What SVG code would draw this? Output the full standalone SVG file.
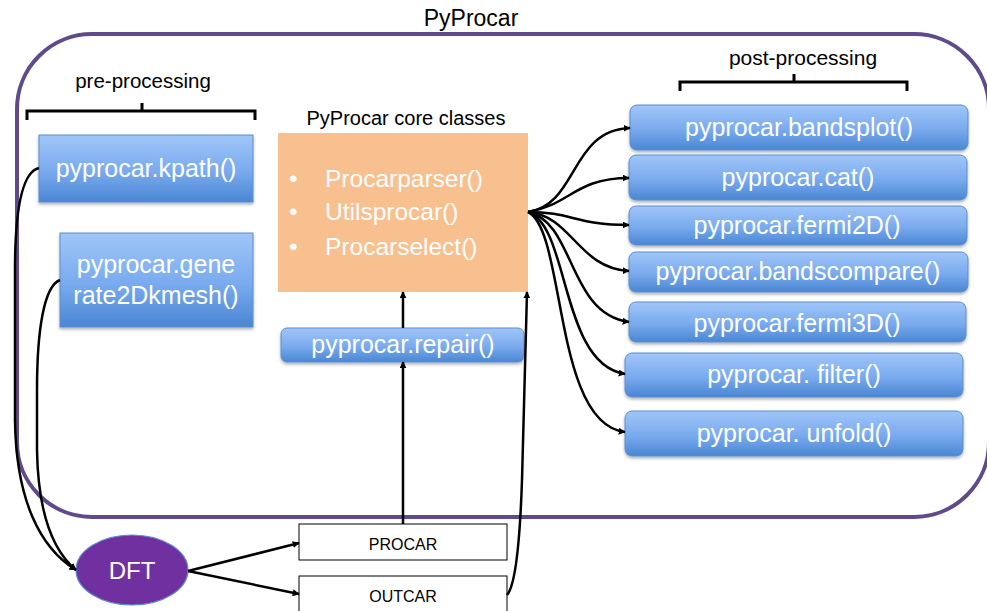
<svg xmlns="http://www.w3.org/2000/svg" width="987" height="611" viewBox="0 0 987 611">
<defs>
<linearGradient id="blue" x1="0" y1="0" x2="0" y2="1">
<stop offset="0" stop-color="#a0c6f8"/>
<stop offset="0.55" stop-color="#79aaee"/>
<stop offset="1" stop-color="#4a86d3"/>
</linearGradient>
<filter id="sh" x="-5%" y="-10%" width="110%" height="130%">
<feDropShadow dx="0" dy="2" stdDeviation="1.5" flood-color="#000" flood-opacity="0.3"/>
</filter>
<marker id="ah" viewBox="0 0 10 10" refX="9" refY="5" markerWidth="7" markerHeight="7" markerUnits="userSpaceOnUse" orient="auto">
<path d="M0,0 L10,5 L0,10 z" fill="#000"/>
</marker>
</defs>
<style>
.lbl{font-family:"Liberation Sans",Arial,sans-serif;fill:#000}
.wt{font-family:"Liberation Sans",Arial,sans-serif;fill:#fff;font-size:25px;text-anchor:middle}
.box{fill:url(#blue);stroke:#5a8dd2;stroke-width:1;filter:url(#sh)}
.con{fill:none;stroke:#000;stroke-width:2.5;marker-end:url(#ah)}
.brace{fill:none;stroke:#000;stroke-width:3}
.file{fill:#fff;stroke:#000;stroke-width:1}
</style>
<rect width="987" height="611" fill="#fff"/>

<g id="pyprocar-container">
<rect x="17" y="34" width="972" height="483" rx="75" ry="75" fill="none" stroke="#5f4b8b" stroke-width="4"/>
<text class="lbl" x="471" y="26" font-size="23" text-anchor="middle">PyProcar</text>
</g>

<g id="pre-processing">
<text class="lbl" x="143" y="88" font-size="20.5" text-anchor="middle">pre-processing</text>
<path class="brace" d="M27,120 L27,111 L255,111 L255,120 M142,111 L142,103"/>
</g>

<g id="post-processing">
<text class="lbl" x="803" y="65" font-size="21" text-anchor="middle">post-processing</text>
<path class="brace" d="M680,91 L680,82 L907,82 L907,91 M794,82 L794,74"/>
</g>

<g id="kpath">
<rect class="box" x="39" y="135" width="214" height="67"/>
<text class="wt" x="146" y="177">pyprocar.kpath()</text>
</g>

<g id="generate2Dkmesh">
<rect class="box" x="60" y="233" width="193" height="94"/>
<text class="wt" x="156" y="273">pyprocar.gene</text>
<text class="wt" x="156" y="304">rate2Dkmesh()</text>
</g>

<g id="core">
<text class="lbl" x="406" y="125" font-size="20" text-anchor="middle">PyProcar core classes</text>
<rect x="278" y="133" width="250" height="159" fill="#f8c08f"/>
<g font-family="Liberation Sans, Arial, sans-serif" fill="#fff" font-size="24.5">
<text x="289" y="187">•</text><text x="325" y="187">Procarparser()</text>
<text x="289" y="220">•</text><text x="325" y="220">Utilsprocar()</text>
<text x="289" y="255">•</text><text x="325" y="255">Procarselect()</text>
</g>
</g>

<g id="repair">
<rect class="box" x="281" y="328" width="243" height="34" rx="6"/>
<text class="wt" x="403" y="353">pyprocar.repair()</text>
</g>

<g id="bandsplot">
<rect class="box" x="630" y="105" width="338" height="45" rx="7"/>
<text class="wt" x="799" y="136">pyprocar.bandsplot()</text>
</g>
<g id="cat">
<rect class="box" x="629" y="155" width="338" height="45" rx="7"/>
<text class="wt" x="798" y="186">pyprocar.cat()</text>
</g>
<g id="fermi2D">
<rect class="box" x="629" y="206" width="338" height="39" rx="7"/>
<text class="wt" x="797" y="234">pyprocar.fermi2D()</text>
</g>
<g id="bandscompare">
<rect class="box" x="629" y="252" width="339" height="40" rx="7"/>
<text class="wt" x="798" y="280">pyprocar.bandscompare()</text>
</g>
<g id="fermi3D">
<rect class="box" x="629" y="302" width="337" height="40" rx="7"/>
<text class="wt" x="797" y="332">pyprocar.fermi3D()</text>
</g>
<g id="filter">
<rect class="box" x="625" y="353" width="338" height="44" rx="7"/>
<text class="wt" x="794" y="383">pyprocar. filter()</text>
</g>
<g id="unfold">
<rect class="box" x="625" y="411" width="338" height="45" rx="7"/>
<text class="wt" x="794" y="442">pyprocar. unfold()</text>
</g>

<g id="DFT">
<ellipse cx="132" cy="570" rx="56" ry="35" fill="#7030a0" stroke="#5b8bd0" stroke-width="1.2"/>
<text x="132" y="579" font-family="Liberation Sans, Arial, sans-serif" font-size="24" fill="#fff" text-anchor="middle">DFT</text>
</g>

<g id="PROCAR">
<rect class="file" x="299" y="524" width="208" height="36"/>
<text class="lbl" x="403" y="550" font-size="16" text-anchor="middle">PROCAR</text>
</g>
<g id="OUTCAR">
<rect class="file" x="299" y="576" width="208" height="40"/>
<text class="lbl" x="403" y="602" font-size="16" text-anchor="middle">OUTCAR</text>
</g>

<g id="connectors">
<path class="con" d="M39,168 C22,172 15,210 15,270 L15,420 C16,500 40,548 76,570"/>
<path class="con" d="M60,280 C44,286 37,330 37,390 L37,450 C38,510 52,550 76,570"/>
<path class="con" d="M188,571 L299,543"/>
<path class="con" d="M188,571 L299,594"/>
<path class="con" d="M403,524 L403,362"/>
<path class="con" d="M403,328 L403,292"/>
<path class="con" d="M507,595 C516,585 520,540 522,480 L527,292"/>
<path class="con" d="M528,212 C578,205 570,130 630,128"/>
<path class="con" d="M528,212 C570,205 575,178 629,178"/>
<path class="con" d="M528,212 C572,212 575,225 629,225"/>
<path class="con" d="M528,212 C572,216 578,268 629,271"/>
<path class="con" d="M528,212 C575,222 568,314 629,322"/>
<path class="con" d="M528,212 C570,226 560,364 625,374"/>
<path class="con" d="M528,212 C566,230 553,424 625,432"/>
</g>
</svg>
